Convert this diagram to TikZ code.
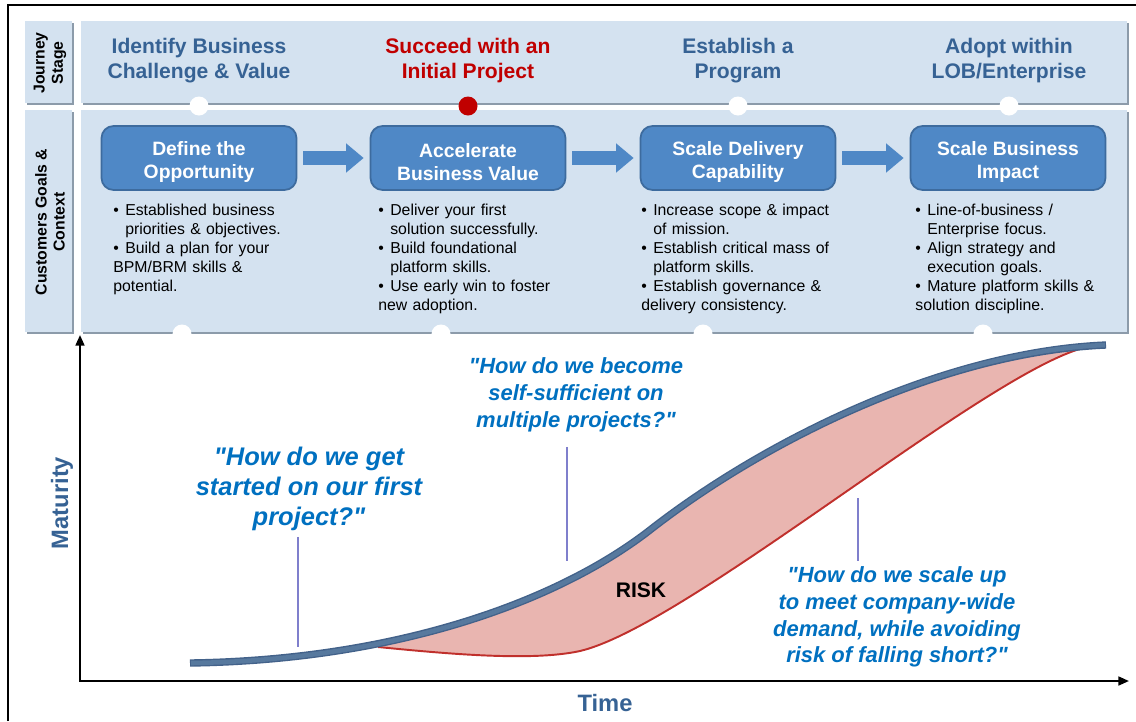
\documentclass[tikz,border=0pt]{standalone}
\usepackage{fontspec}
\setmainfont{Liberation Sans}
\usepackage{xcolor}
\usetikzlibrary{arrows.meta,calc,positioning}

\definecolor{panelblue}{HTML}{D4E2F0}
\definecolor{panelgray}{HTML}{8C9BAA}
\definecolor{boxblue}{HTML}{4F88C6}
\definecolor{boxedge}{HTML}{3D6B9E}
\definecolor{stageblue}{HTML}{366294}
\definecolor{stagered}{HTML}{C00000}
\definecolor{askblue}{HTML}{0070C0}
\definecolor{leaderline}{HTML}{7F7FCC}
\definecolor{curveblue}{HTML}{57799E}
\definecolor{curvedark}{HTML}{43628A}
\definecolor{riskline}{HTML}{C0302C}
\definecolor{riskfill}{HTML}{E9B5B0}

\newcommand{\bitem}[1]{\par\hangindent=6.8pt\hangafter=1\noindent\makebox[6.8pt][l]{\textbullet}#1}
\newcommand{\dq}{\textquotedbl}
\newcommand{\goalstrut}{\rule{0pt}{12.5pt}}

\tikzset{
	panel/.style={fill=panelblue},
	panelshadow/.style={fill=panelgray},
	stage/.style={align=center, text=stageblue, font=\fontsize{12}{14.2}\selectfont\bfseries},
	rowlabel/.style={align=center, rotate=90, font=\fontsize{9}{10.3}\selectfont\bfseries},
	goalbox/.style={draw=boxedge, line width=1pt, fill=boxblue, rounded corners=0.24cm, minimum width=3.9cm, minimum height=1.28cm, align=center, text=white, font=\fontsize{11}{13}\selectfont\bfseries},
	goalarrow/.style={draw=boxblue, line width=8pt, shorten <=3.4pt, shorten >=3.4pt, -{Triangle[length=10pt,width=16pt]}},
	bullets/.style={anchor=north west, inner sep=0pt, text width=4.2cm, align=left, font=\fontsize{9}{10.8}\selectfont},
	ask/.style={align=center, text=askblue, font=\fontsize{12.5}{15.2}\selectfont\bfseries\itshape},
	leader/.style={draw=leaderline, line width=0.7pt},
	maturityaxis/.style={line width=1.2pt, {Triangle[length=6pt,width=5pt]}-{Triangle[length=6pt,width=5pt]}},
	axislabel/.style={text=stageblue, font=\fontsize{13.5}{16}\selectfont\bfseries},
}

\begin{document}
\begin{tikzpicture}[x=0.02cm, y=-0.02cm]
	\useasboundingbox (0,0) rectangle (1136,721);
	\draw [line width=1pt] (8,721) -- (8,5) -- (1136,5);
	% row labels and panels
	\fill [panelshadow] (27,23) rectangle (74,105);
	\fill [panel] (25,21) rectangle (72,103);
	\fill [panelshadow] (27,112) rectangle (74,334);
	\fill [panel] (25,110) rectangle (72,332);
	\fill [panelshadow] (83,23) rectangle (1129,105);
	\fill [panel] (81,21) rectangle (1127,103);
	\fill [panelshadow] (83,112) rectangle (1129,334);
	\fill [panel] (81,110) rectangle (1127,332);
	\node [rowlabel] (journey) at (50,63) {Journey\\Stage};
	\node [rowlabel] (goals) at (50,222) {Customers Goals \&\\Context};
	% markers between the rows
	\fill [white] (199,106) circle (0.19cm);
	\fill [stagered] (468,106) circle (0.19cm);
	\fill [white] (738,106) circle (0.19cm);
	\fill [white] (1009,106) circle (0.19cm);
	\fill [white] (182,334) circle (0.19cm);
	\fill [white] (441,334) circle (0.19cm);
	\fill [white] (703,334) circle (0.19cm);
	\fill [white] (983,334) circle (0.19cm);
	% journey stages
	\node [stage] (identify) at (199,61) {Identify Business\\Challenge \& Value};
	\node [stage, text=stagered] (succeed) at (468,61) {Succeed with an\\Initial Project};
	\node [stage] (establish) at (738,61) {Establish a\\Program};
	\node [stage] (adopt) at (1009,61) {Adopt within\\LOB/Enterprise};
	% goals
	\node [goalbox] (define) at (199,158) {\goalstrut Define the\\Opportunity};
	\node [goalbox] (accelerate) at (468,158) {\goalstrut Accelerate\\Business Value};
	\node [goalbox] (delivery) at (738,158) {\goalstrut Scale Delivery\\Capability};
	\node [goalbox] (impact) at (1008,158) {\goalstrut Scale Business\\Impact};
	\draw [goalarrow] (define) -- (accelerate);
	\draw [goalarrow] (accelerate) -- (delivery);
	\draw [goalarrow] (delivery) -- (impact);
	\node [bullets] (definetext) at (113,196) {\bitem{Established business\newline priorities \& objectives.}\bitem{Build a plan for your\newline BPM/BRM skills \&\newline potential.}};
	\node [bullets] (acceleratetext) at (378,196) {\bitem{Deliver your first\newline solution successfully.}\bitem{Build foundational\newline platform skills.}\bitem{Use early win to foster\newline new adoption.}};
	\node [bullets] (deliverytext) at (641,196) {\bitem{Increase scope \& impact\newline of mission.}\bitem{Establish critical mass of\newline platform skills.}\bitem{Establish governance \&\newline delivery consistency.}};
	\node [bullets] (impacttext) at (915,196) {\bitem{Line-of-business /\newline Enterprise focus.}\bitem{Align strategy and\newline execution goals.}\bitem{Mature platform skills \&\newline solution discipline.}};
	% maturity curve
	\coordinate (origin) at (80,681);
	\coordinate (ytip) at (80,335);
	\coordinate (xtip) at (1129,681);
	\fill [riskfill] (378,647) .. controls (440,653) and (530,662) .. (580,651) .. controls (690,625) and (1000,360) .. (1092,346) -- (1106,345)
		.. controls (940,352) and (760,444) .. (650,530) .. controls (560,600) and (400,660) .. (190,663) -- cycle;
	\draw [riskline, line width=1.1pt] (378,647) .. controls (440,653) and (530,662) .. (580,651) .. controls (690,625) and (1000,360) .. (1092,346);
	\draw [curvedark, line width=4.2pt] (190,663) .. controls (400,660) and (560,600) .. (650,530) .. controls (760,444) and (940,352) .. (1106,345);
	\draw [curveblue, line width=2.6pt] (191,663) .. controls (400,660) and (560,600) .. (650,530) .. controls (760,444) and (940,352) .. (1105,345);
	\draw [maturityaxis] (ytip) -- (origin) -- (xtip);
	\node [axislabel, rotate=90] (maturity) at (62,503) {Maturity};
	\node [axislabel] (time) at (605,703) {Time};
	\node [font=\fontsize{12}{14}\selectfont\bfseries] (risk) at (641,590) {RISK};
	% questions
	\node [ask, font=\fontsize{14.5}{17}\selectfont\bfseries\itshape] (askstart) at (309,489) {\dq How do we get\\started on our first\\project?\dq};
	\node [ask] (askgrow) at (576,395) {\dq How do we become\\self-sufficient on\\multiple projects?\dq};
	\node [ask] (askscale) at (897,617) {\dq How do we scale up\\to meet company-wide\\demand, while avoiding\\risk of falling short?\dq};
	\coordinate (onstart) at (298,647);
	\coordinate (ongrow) at (567,561);
	\coordinate (onrisk) at (858,498);
	\draw [leader] (onstart |- askstart.south) -- (onstart);
	\draw [leader, shorten <=5pt] (ongrow |- askgrow.south) -- (ongrow);
	\draw [leader] (onrisk |- askscale.north) -- (onrisk);
\end{tikzpicture}
\end{document}
